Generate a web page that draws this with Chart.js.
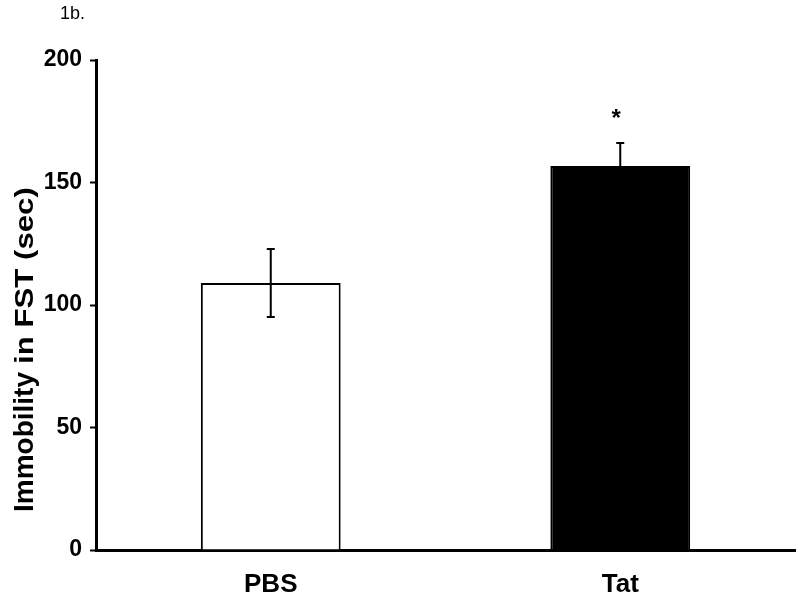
<!DOCTYPE html>
<html><head><meta charset="utf-8">
<script src="https://cdn.jsdelivr.net/npm/chart.js@4/dist/chart.umd.min.js"></script>
<style>html,body{margin:0;padding:0;background:#fff}</style>
</head><body>
<canvas id="c" width="800" height="598" style="width:800px;height:598px;display:block"></canvas>
<script>
const categories = ['PBS', 'Tat'];
const means = [109, 156.7];
const sem = [13.9, 9.4];
const significance = ['', '*'];
const yTicks = [0, 50, 100, 150, 200];
const panelLabel = '1b.';
const yTitleMain = 'Immobility';
const yTitleSub = 'in FST (sec)';
const barFill = ['#ffffff', '#000000'];

const FONT = '"Liberation Sans", Arial, Helvetica, sans-serif';

const extras = {
  id: 'extras',
  afterDatasetsDraw(chart) {
    const ctx = chart.ctx;
    const y = chart.scales.y;
    const meta = chart.getDatasetMeta(0);
    ctx.save();
    ctx.strokeStyle = '#000';
    ctx.fillStyle = '#000';
    ctx.lineWidth = 2;
    meta.data.forEach((bar, i) => {
      const x = bar.x;
      const yt = y.getPixelForValue(means[i] + sem[i]);
      const yb = y.getPixelForValue(means[i] - sem[i]);
      ctx.beginPath();
      ctx.moveTo(x, yb); ctx.lineTo(x, yt);
      ctx.moveTo(x - 4, yt); ctx.lineTo(x + 4, yt);
      ctx.moveTo(x - 4, yb); ctx.lineTo(x + 4, yb);
      ctx.stroke();
      if (significance[i]) {
        ctx.font = 'bold 24px ' + FONT;
        ctx.textAlign = 'center';
        ctx.textBaseline = 'middle';
        ctx.fillText(significance[i], x - 4, yt - 24);
      }
    });
    ctx.restore();
  },
  afterDraw(chart) {
    const ctx = chart.ctx;
    ctx.save();
    ctx.fillStyle = '#000';
    ctx.font = '18px ' + FONT;
    ctx.textAlign = 'left';
    ctx.textBaseline = 'top';
    ctx.fillText(panelLabel, 60, 5);
    // y axis title, rotated
    ctx.translate(33, 512);
    ctx.rotate(-Math.PI / 2);
    ctx.textBaseline = 'alphabetic';
    ctx.font = 'bold 28px ' + FONT;
    ctx.fillText(yTitleMain, 0, 0);
    const w1 = ctx.measureText(yTitleMain).width;
    ctx.font = 'bold 26px ' + FONT;
    ctx.translate(w1 + 8, 0);
    ctx.scale(1.2, 1);
    ctx.fillText(yTitleSub, 0, 0);
    ctx.restore();
  }
};

new Chart(document.getElementById('c'), {
  type: 'bar',
  data: {
    labels: categories,
    datasets: [{
      data: means,
      backgroundColor: barFill,
      borderColor: '#000',
      borderWidth: 2,
      categoryPercentage: 1,
      barPercentage: 0.4
    }]
  },
  options: {
    responsive: false,
    devicePixelRatio: 1,
    animation: false,
    layout: { padding: { top: 60, right: 5, left: 0, bottom: 0 } },
    plugins: { legend: { display: false }, tooltip: { enabled: false }, title: { display: false } },
    scales: {
      x: {
        grid: { display: false },
        border: { display: true, width: 3, color: '#000' },
        ticks: { color: '#000', font: { family: FONT, size: 26, weight: 'bold' }, padding: 11 },
        afterFit(s) { s.height = 48; }
      },
      y: {
        min: 0, max: 200,
        afterBuildTicks(s) { s.ticks = yTicks.map(v => ({ value: v })); },
        grid: { display: true, drawOnChartArea: false, drawTicks: true, tickLength: 6, tickWidth: 2, tickColor: '#000' },
        border: { display: true, width: 3, color: '#000' },
        ticks: { color: '#000', font: { family: FONT, size: 23, weight: 'bold' }, padding: 8 },
        afterFit(s) { s.width = 96; }
      }
    }
  },
  plugins: [extras]
});
</script>
</body></html>
